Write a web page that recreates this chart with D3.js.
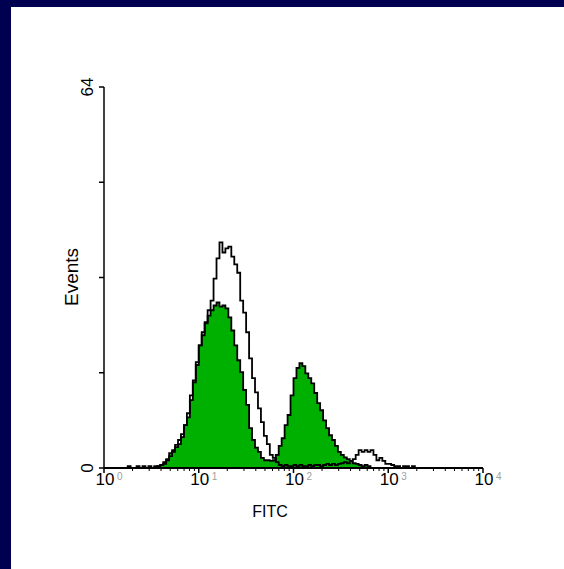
<!DOCTYPE html>
<html>
<head>
<meta charset="utf-8">
<script src="https://cdn.jsdelivr.net/npm/d3@7"></script>
<style>
  body { margin: 0; background: #fff; }
  svg { display: block; font-family: Arial, "Liberation Sans", sans-serif; }
</style>
</head>
<body>
<div id="chart"></div>
<script>
// channel histogram, 32 channels per decade, 10^0 .. 10^4
const channelsPerDecade = 32;
const decades = [0, 1, 2, 3, 4];
const yTicks = [0, 16, 32, 48, 64];
const yLabels = [0, 64];

const openCounts = [
  0, 0, 0, 0, 0, 0, 0, 0, 0.3, 0, 0, 0.3, 0, 0.3, 0, 0.3, 0, 0.3, 0.3,
  0.5, 0.7, 1.3, 2, 2.7, 3.9, 4.7, 5.7, 7.2, 9.2, 12.2, 14.7, 17.8, 20.6, 22.8, 24.5, 26.5, 28.1, 31.8, 35.2,
  37.9, 36.2, 36.9, 37.2, 35.5, 34.2, 32.8, 28.1, 26.1, 22.8, 18.4, 15.1, 12.7, 10, 7.7, 5.4, 4, 2.2, 1.7, 1.0,
  0.5, 0.3, 0.5, 0.3, 0.3, 0.5, 0.3, 0.5, 0.3, 0.3, 0.5, 0.3, 0.5, 0.5, 0.3, 0.5, 0.7, 0.5, 0.7, 0.5, 0.7, 0.8, 1.0, 0.8, 1.2, 1.5,
  2.2, 3.0, 2.7, 3.0, 2.7, 3.0, 2.2, 1.3, 1.7, 1.2, 0.7, 0.7, 0.5, 0.3, 0.3, 0, 0.3, 0.3, 0, 0.3, 0,
  0, 0, 0, 0, 0, 0, 0, 0, 0, 0, 0, 0, 0, 0, 0, 0, 0, 0, 0, 0, 0, 0
];

const greenCounts = [
  0, 0, 0, 0, 0, 0, 0, 0, 0, 0, 0, 0, 0, 0, 0, 0, 0, 0.2,
  0.3, 0.5, 1.0, 1.5, 2.5, 3, 3.5, 4, 5.2, 7.2, 8.5, 11.4, 14.4, 17.3, 20.6, 22.3, 24.3, 25.6, 26.5, 27.3,
  27.8, 27.1, 27.3, 26.8, 25.3, 23.1, 20.6, 18.1, 16.1, 13.1, 10.6, 6.7, 4.7, 3.4, 2.7, 1.7, 1.3, 1.3, 1.2,
  1.3, 2.2, 3.7, 5, 7.2, 8.9, 12.2, 15.1, 16.8, 17.6, 17.1, 15.9, 15.1, 14.2, 12.6, 10.9, 9.7, 8, 6.7, 5.5,
  4.7, 3.7, 2.7, 2.2, 1.8, 1.5, 1.2, 0.8, 0.7, 0.5, 0.3, 0.5, 0.3,
  0, 0, 0, 0, 0, 0, 0, 0, 0, 0, 0, 0, 0, 0, 0, 0, 0, 0, 0, 0,
  0, 0, 0, 0, 0, 0, 0, 0, 0, 0, 0, 0, 0, 0, 0, 0, 0, 0
];

const width = 564, height = 569;

const svg = d3.select('#chart')
  .append('svg')
  .attr('width', width)
  .attr('height', height);

svg.append('rect').attr('width', width).attr('height', height).attr('fill', '#fff');
// navy frame (top and left)
svg.append('rect').attr('x', 0).attr('y', 0).attr('width', width).attr('height', 7).attr('fill', '#000050');
svg.append('rect').attr('x', 0).attr('y', 0).attr('width', 11).attr('height', height).attr('fill', '#000050');

const x = d3.scaleLog()
  .domain([1, 1e4])
  .range([104, 483]);

const y = d3.scaleLinear()
  .domain([0, 64])
  .range([468, 87]);

const toPoints = counts => {
  const pts = counts.map((v, i) => [Math.pow(10, i / channelsPerDecade), v]);
  pts.push([Math.pow(10, counts.length / channelsPerDecade), counts[counts.length - 1]]);
  return pts;
};

const area = d3.area()
  .x(d => x(d[0]))
  .y0(y(0))
  .y1(d => y(d[1]))
  .curve(d3.curveStepAfter);

const line = d3.line()
  .x(d => x(d[0]))
  .y(d => y(d[1]))
  .curve(d3.curveStepAfter);

svg.append('path')
  .datum(toPoints(greenCounts))
  .attr('d', area)
  .attr('fill', '#00b000')
  .attr('stroke', '#000')
  .attr('stroke-width', 1.8);

svg.append('path')
  .datum(toPoints(openCounts))
  .attr('d', line)
  .attr('fill', 'none')
  .attr('stroke', '#000')
  .attr('stroke-width', 1.8);

// axes
const axisColor = '#000';
svg.append('line')
  .attr('x1', x(1)).attr('x2', x(1e4))
  .attr('y1', y(0)).attr('y2', y(0))
  .attr('stroke', axisColor).attr('stroke-width', 1.5);
svg.append('line')
  .attr('x1', x(1)).attr('x2', x(1))
  .attr('y1', y(0)).attr('y2', y(64))
  .attr('stroke', axisColor).attr('stroke-width', 1.5);

svg.selectAll('.ytick')
  .data(yTicks)
  .enter()
  .append('line')
  .attr('x1', x(1) - 5).attr('x2', x(1))
  .attr('y1', d => y(d)).attr('y2', d => y(d))
  .attr('stroke', axisColor).attr('stroke-width', 1.5);

const minor = [];
decades.slice(0, -1).forEach(k => {
  for (let m = 2; m <= 9; m++) minor.push(m * Math.pow(10, k));
});

svg.selectAll('.xminor')
  .data(minor)
  .enter()
  .append('line')
  .attr('x1', d => x(d)).attr('x2', d => x(d))
  .attr('y1', y(0)).attr('y2', y(0) + 3)
  .attr('stroke', axisColor).attr('stroke-width', 1);

svg.selectAll('.xmajor')
  .data(decades)
  .enter()
  .append('line')
  .attr('x1', d => x(Math.pow(10, d))).attr('x2', d => x(Math.pow(10, d)))
  .attr('y1', y(0)).attr('y2', y(0) + 5)
  .attr('stroke', axisColor).attr('stroke-width', 1.5);

// x tick labels: "10" + grey superscript
svg.selectAll('.xlab')
  .data(decades)
  .enter()
  .append('text')
  .attr('x', d => x(Math.pow(10, d)) + 1)
  .attr('y', 485)
  .attr('text-anchor', 'middle')
  .style('font-size', '17px')
  .text('10');

svg.selectAll('.xexp')
  .data(decades)
  .enter()
  .append('text')
  .attr('x', d => x(Math.pow(10, d)) + 13)
  .attr('y', 480)
  .style('font-size', '10px')
  .style('fill', '#a0a0a0')
  .text(d => d);

svg.append('text')
  .attr('x', 270)
  .attr('y', 517)
  .attr('text-anchor', 'middle')
  .style('font-size', '16px')
  .text('FITC');

// y labels (rotated)
svg.selectAll('.ylab')
  .data(yLabels)
  .enter()
  .append('text')
  .attr('transform', d => `translate(93,${y(d)}) rotate(-90)`)
  .attr('text-anchor', 'middle')
  .style('font-size', '17px')
  .text(d => d);

svg.append('text')
  .attr('transform', 'translate(78,277) rotate(-90)')
  .attr('text-anchor', 'middle')
  .style('font-size', '19px')
  .text('Events');
</script>
</body>
</html>
